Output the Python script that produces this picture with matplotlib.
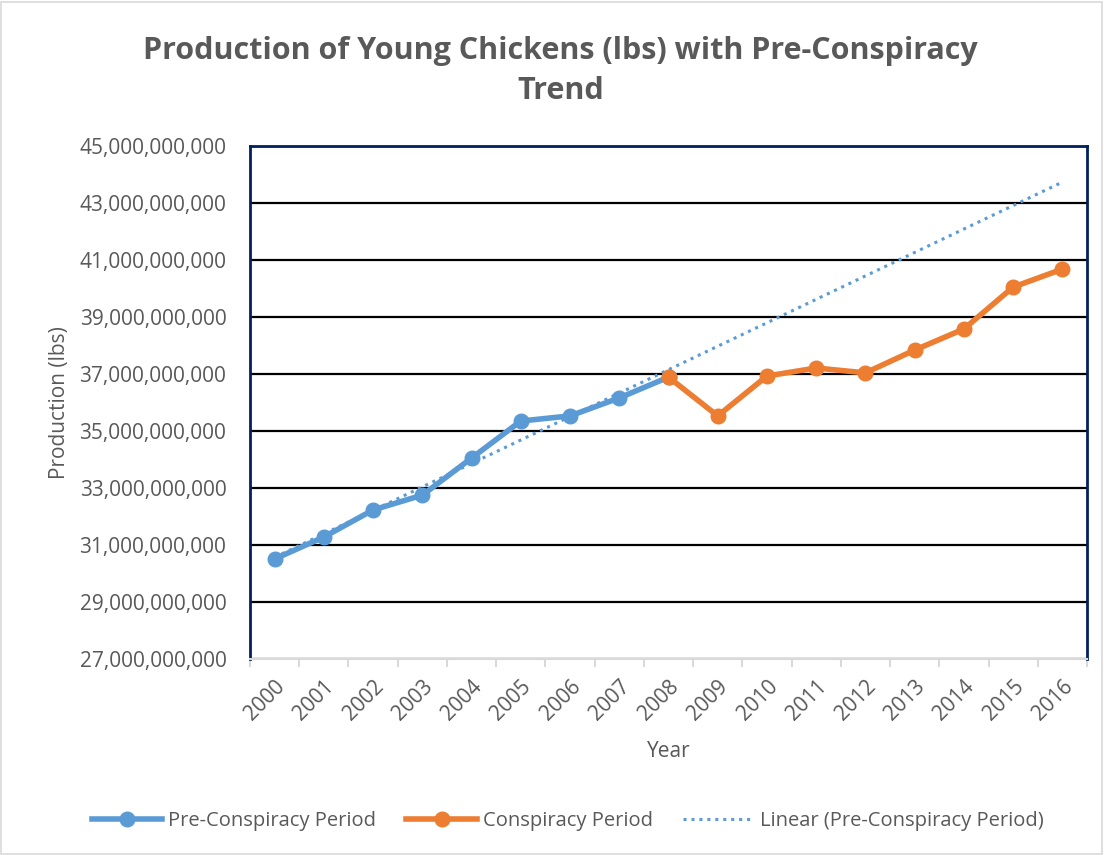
import matplotlib.pyplot as plt
import numpy as np
from matplotlib.patches import Rectangle
from matplotlib.ticker import FuncFormatter, FixedLocator

plt.rcParams['font.family'] = ['Open Sans', 'DejaVu Sans']

years = [str(y) for y in range(2000, 2017)]
# pre-conspiracy period 2000-2008
pre_vals = [30.51e9, 31.28e9, 32.23e9, 32.75e9, 34.05e9, 35.35e9, 35.53e9, 36.16e9, 36.89e9]
# conspiracy period 2008-2016
con_vals = [36.89e9, 35.53e9, 36.93e9, 37.21e9, 37.04e9, 37.84e9, 38.58e9, 40.05e9, 40.68e9]

blue = '#5B9BD5'
orange = '#ED7D31'
gray = '#595959'

fig = plt.figure(figsize=(11.04, 8.55), dpi=100)
ax = fig.add_axes([250 / 1104, 1 - 659 / 855, (1087 - 250) / 1104, (659 - 146) / 855])

x_pre = np.arange(len(pre_vals))
x_con = np.arange(len(pre_vals) - 1, len(years))

# linear trend of pre period
k, b = np.polyfit(x_pre, pre_vals, 1)
x_tr = np.array([0, len(years) - 1])
ax.plot(x_tr, k * x_tr + b, linestyle=(0, (1, 1.6)), color=blue, lw=2.2,
        label='Linear (Pre-Conspiracy Period)', zorder=3)

ax.plot(x_pre, pre_vals, color=blue, lw=4, marker='o', ms=10.5,
        label='Pre-Conspiracy Period', zorder=4)
ax.plot(x_con, con_vals, color=orange, lw=4, marker='o', ms=10.5,
        label='Conspiracy Period', zorder=5)

ax.set_xlim(-0.5, len(years) - 0.5)
ax.set_ylim(27e9, 45e9)
ax.set_yticks(np.arange(27e9, 45.1e9, 2e9))
ax.yaxis.set_major_formatter(FuncFormatter(lambda v, p: f'{v:,.0f}'))
ax.grid(axis='y', color='black', lw=1.6)
ax.set_axisbelow(True)
ax.tick_params(axis='y', length=0, labelsize=15, labelcolor=gray, pad=17)

ax.set_xticks(np.arange(len(years)))
ax.set_xticklabels(years, rotation=45, ha='right', rotation_mode='anchor')
ax.xaxis.set_minor_locator(FixedLocator(np.arange(-0.5, len(years), 1)))
ax.tick_params(axis='x', which='major', length=0, labelsize=15, labelcolor=gray, pad=12)
ax.tick_params(axis='x', which='minor', length=6, color='#D9D9D9', width=1.5)

for s in ['left', 'top', 'right']:
    ax.spines[s].set_color('#002060')
    ax.spines[s].set_linewidth(2)
ax.spines['bottom'].set_color('#D9D9D9')
ax.spines['bottom'].set_linewidth(1.5)

ax.set_ylabel('Production (lbs)', fontsize=15, color=gray, labelpad=7)
ax.set_xlabel('Year', fontsize=15, color=gray, labelpad=12)

fig.suptitle('Production of Young Chickens (lbs) with Pre-Conspiracy\nTrend',
             x=0.508, y=0.958, fontsize=22, fontweight='bold', color=gray,
             linespacing=1.45)

h, lab = ax.get_legend_handles_labels()
order = [1, 2, 0]
fig.legend([h[i] for i in order], [lab[i] for i in order], loc='center',
           bbox_to_anchor=(0.514, 1 - 821 / 855), ncol=3, frameon=False,
           fontsize=14.5, labelcolor=gray, handlelength=3.5, handletextpad=0.3,
           columnspacing=1.5)

fig.patches.append(Rectangle((0.001, 0.001), 0.997, 0.997, transform=fig.transFigure,
                             fill=False, edgecolor='#D9D9D9', lw=1.2))

fig.savefig('out.png', dpi=100)
